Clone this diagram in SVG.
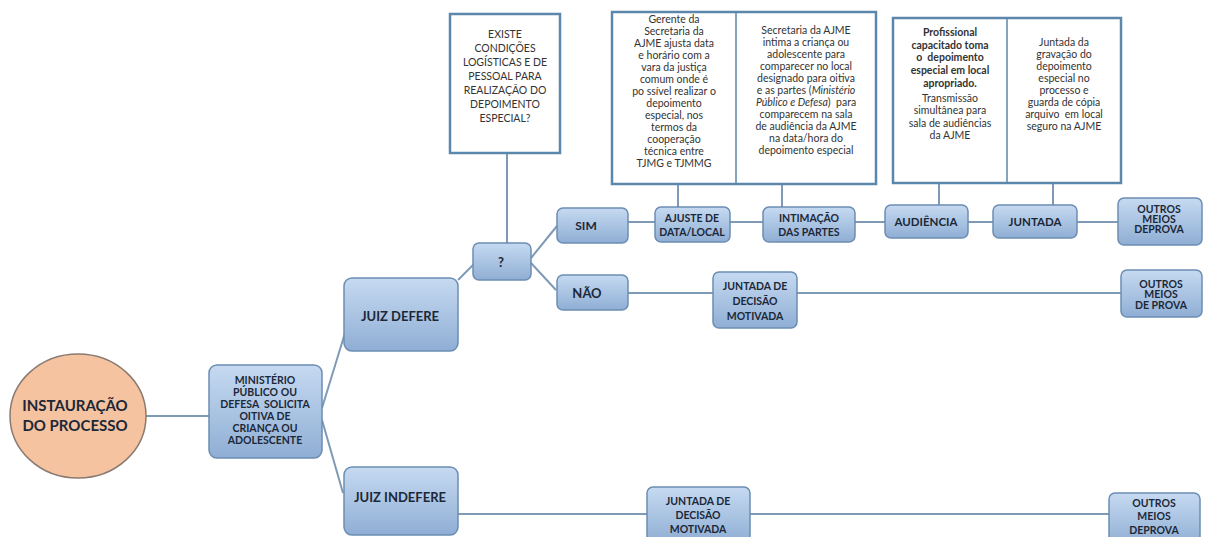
<svg xmlns="http://www.w3.org/2000/svg" width="1207" height="537" viewBox="0 0 1207 537">
<defs>
<linearGradient id="g" x1="0" y1="0" x2="0" y2="1">
<stop offset="0" stop-color="#c6daf1"/>
<stop offset="1" stop-color="#8faed4"/>
</linearGradient>
<style>
.n{fill:url(#g);stroke:#6c8db3;stroke-width:1.5}
.t{font-family:Lato,"Liberation Sans",sans-serif;font-weight:bold;fill:#1c2838;text-anchor:middle;white-space:pre}
.c{stroke:#7e9ab6;stroke-width:2;fill:none}
.b{fill:#ffffff;stroke:#5b87ad;stroke-width:2.5}
.s{font-family:Lato,"Liberation Sans",sans-serif;font-size:10.5px;fill:#333;text-anchor:middle;white-space:pre}
</style>
</defs>
<rect width="1207" height="537" fill="#ffffff"/>
<g id="connectors">
<line class="c" x1="145" y1="416" x2="210" y2="416"/>
<line class="c" x1="322" y1="408" x2="345" y2="333"/>
<line class="c" x1="322" y1="420" x2="343" y2="493"/>
<line class="c" x1="458" y1="280" x2="474" y2="264"/>
<line class="c" x1="507" y1="153" x2="507" y2="243"/>
<line class="c" x1="531" y1="258" x2="557" y2="226"/>
<line class="c" x1="531" y1="263" x2="556" y2="290"/>
<line class="c" x1="628" y1="222" x2="655" y2="222"/>
<line class="c" x1="730" y1="222" x2="763" y2="222"/>
<line class="c" x1="855" y1="222" x2="885" y2="222"/>
<line class="c" x1="968" y1="222" x2="993" y2="222"/>
<line class="c" x1="1077" y1="222" x2="1118" y2="222"/>
<line class="c" x1="678" y1="184" x2="678" y2="207"/>
<line class="c" x1="782" y1="184" x2="782" y2="207"/>
<line class="c" x1="939" y1="183" x2="939" y2="205"/>
<line class="c" x1="1053" y1="183" x2="1053" y2="205"/>
<line class="c" x1="628" y1="293" x2="713" y2="293"/>
<line class="c" x1="797" y1="293" x2="1121" y2="293"/>
<line class="c" x1="458" y1="514" x2="647" y2="514"/>
<line class="c" x1="750" y1="514" x2="1109" y2="514"/>
</g>
<g id="instauracao">
<ellipse cx="78" cy="416" rx="68" ry="62" fill="#f5c3a0" stroke="#8a7a70" stroke-width="1.5"/>
<text class="t" x="75" y="411" font-size="15">INSTAURAÇÃO</text>
<text class="t" x="75" y="431" font-size="15">DO PROCESSO</text>
</g>
<g id="ministerio">
<rect class="n" x="209" y="365" width="113" height="93" rx="8"/>
<text class="t" font-size="10.5"><tspan x="265" y="384">MINISTÉRIO</tspan><tspan x="265" y="396">PÚBLICO OU</tspan><tspan x="265" y="408">DEFESA  SOLICITA</tspan><tspan x="265" y="420">OITIVA DE</tspan><tspan x="265" y="432">CRIANÇA OU</tspan><tspan x="265" y="444">ADOLESCENTE</tspan></text>
</g>
<g id="juiz-defere">
<rect class="n" x="344" y="278" width="114" height="73" rx="8"/>
<text class="t" x="400" y="321" font-size="13">JUIZ DEFERE</text>
</g>
<g id="juiz-indefere">
<rect class="n" x="344" y="467" width="114" height="68" rx="8"/>
<text class="t" x="400" y="502" font-size="13">JUIZ INDEFERE</text>
</g>
<g id="pergunta-box">
<rect class="b" x="450" y="14" width="110" height="139"/>
<text class="s" font-size="8.6" fill="#444"><tspan x="505" y="38">EXISTE</tspan><tspan x="505" y="52">CONDIÇÕES</tspan><tspan x="505" y="66">LOGÍSTICAS E DE</tspan><tspan x="505" y="80">PESSOAL PARA</tspan><tspan x="505" y="94">REALIZAÇÃO DO</tspan><tspan x="505" y="108">DEPOIMENTO</tspan><tspan x="505" y="122">ESPECIAL?</tspan></text>
</g>
<g id="pergunta">
<rect class="n" x="473" y="243" width="58" height="37" rx="6"/>
<text class="t" x="501" y="267" font-size="13">?</text>
</g>
<g id="sim">
<rect class="n" x="557" y="208" width="71" height="35" rx="6"/>
<text class="t" x="586" y="230" font-size="12">SIM</text>
</g>
<g id="nao">
<rect class="n" x="557" y="275" width="71" height="35" rx="6"/>
<text class="t" x="587" y="298" font-size="13">NÃO</text>
</g>
<g id="descricao-ajuste-intimacao">
<rect class="b" x="612" y="12" width="264" height="172"/>
<line x1="736" y1="12" x2="736" y2="184" stroke="#5b87ad" stroke-width="1.5"/>
<text class="s"><tspan x="674" y="23">Gerente da</tspan><tspan x="674" y="35">Secretaria da</tspan><tspan x="674" y="47">AJME ajusta data</tspan><tspan x="674" y="59">e horário com a</tspan><tspan x="674" y="71">vara da justiça</tspan><tspan x="674" y="83">comum onde é</tspan><tspan x="674" y="95">po ssível realizar o</tspan><tspan x="674" y="107">depoimento</tspan><tspan x="674" y="119">especial, nos</tspan><tspan x="674" y="131">termos da</tspan><tspan x="674" y="143">cooperação</tspan><tspan x="674" y="155">técnica entre</tspan><tspan x="674" y="167">TJMG e TJMMG</tspan></text>
<text class="s"><tspan x="806" y="34">Secretaria da AJME</tspan><tspan x="806" y="46">intima a criança ou</tspan><tspan x="806" y="58">adolescente para</tspan><tspan x="806" y="70">comparecer no local</tspan><tspan x="806" y="82">designado para oitiva</tspan><tspan x="806" y="94">e as partes (<tspan font-style="italic">Ministério</tspan></tspan><tspan x="806" y="106"><tspan font-style="italic">Público e Defesa</tspan>)  para</tspan><tspan x="806" y="118">comparecem na sala</tspan><tspan x="806" y="130">de audiência da AJME</tspan><tspan x="806" y="142">na data/hora do</tspan><tspan x="806" y="154">depoimento especial</tspan></text>
</g>
<g id="descricao-audiencia-juntada">
<rect class="b" x="893" y="18" width="228" height="165"/>
<line x1="1007" y1="18" x2="1007" y2="183" stroke="#5b87ad" stroke-width="1.5"/>
<text class="s" font-weight="bold" fill="#222"><tspan x="950" y="36">Profissional</tspan><tspan x="950" y="49">capacitado toma</tspan><tspan x="950" y="61">o  depoimento</tspan><tspan x="950" y="74">especial em local</tspan><tspan x="950" y="87">apropriado.</tspan></text>
<text class="s" font-size="10"><tspan x="950" y="102">Transmissão</tspan><tspan x="950" y="114">simultânea para</tspan><tspan x="950" y="127">sala de audiências</tspan><tspan x="950" y="139">da AJME</tspan></text>
<text class="s" font-size="10"><tspan x="1064" y="46">Juntada da</tspan><tspan x="1064" y="58">gravação do</tspan><tspan x="1064" y="70">depoimento</tspan><tspan x="1064" y="82">especial no</tspan><tspan x="1064" y="94">processo e</tspan><tspan x="1064" y="106">guarda de cópia</tspan><tspan x="1064" y="118">arquivo  em local</tspan><tspan x="1064" y="130">seguro na AJME</tspan></text>
</g>
<g id="ajuste">
<rect class="n" x="655" y="207" width="75" height="35" rx="6"/>
<text class="t" font-size="10.5"><tspan x="692" y="222">AJUSTE DE</tspan><tspan x="692" y="236">DATA/LOCAL</tspan></text>
</g>
<g id="intimacao">
<rect class="n" x="763" y="207" width="92" height="35" rx="6"/>
<text class="t" font-size="10.5"><tspan x="809" y="222">INTIMAÇÃO</tspan><tspan x="809" y="236">DAS PARTES</tspan></text>
</g>
<g id="audiencia">
<rect class="n" x="885" y="205" width="83" height="33" rx="6"/>
<text class="t" x="926" y="226" font-size="11.5">AUDIÊNCIA</text>
</g>
<g id="juntada">
<rect class="n" x="993" y="205" width="84" height="33" rx="6"/>
<text class="t" x="1035" y="226" font-size="11.5">JUNTADA</text>
</g>
<g id="outros-1">
<rect class="n" x="1118" y="198" width="84" height="47" rx="6"/>
<text class="t" font-size="10.5"><tspan x="1159" y="213">OUTROS</tspan><tspan x="1159" y="223">MEIOS</tspan><tspan x="1159" y="233">DEPROVA</tspan></text>
</g>
<g id="juntada-decisao-1">
<rect class="n" x="713" y="272" width="84" height="56" rx="6"/>
<text class="t" font-size="10.5"><tspan x="755" y="290">JUNTADA DE</tspan><tspan x="755" y="305">DECISÃO</tspan><tspan x="755" y="320">MOTIVADA</tspan></text>
</g>
<g id="outros-2">
<rect class="n" x="1121" y="270" width="81" height="47" rx="6"/>
<text class="t" font-size="10.5"><tspan x="1161" y="288">OUTROS</tspan><tspan x="1161" y="298">MEIOS</tspan><tspan x="1161" y="309">DE PROVA</tspan></text>
</g>
<g id="juntada-decisao-2">
<rect class="n" x="647" y="487" width="103" height="56" rx="6"/>
<text class="t" font-size="10.5"><tspan x="698" y="505">JUNTADA DE</tspan><tspan x="698" y="519">DECISÃO</tspan><tspan x="698" y="533">MOTIVADA</tspan></text>
</g>
<g id="outros-3">
<rect class="n" x="1109" y="493" width="91" height="52" rx="6"/>
<text class="t" font-size="10.5"><tspan x="1154" y="507">OUTROS</tspan><tspan x="1154" y="520">MEIOS</tspan><tspan x="1154" y="534">DEPROVA</tspan></text>
</g>
</svg>
